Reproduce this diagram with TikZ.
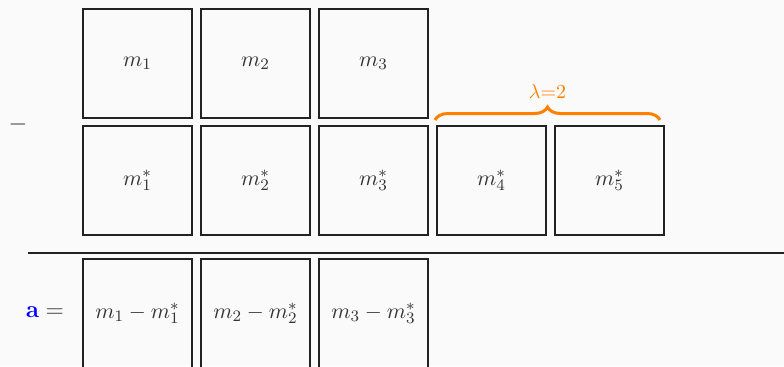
\documentclass[tikz,border=0pt]{standalone}
\usetikzlibrary{decorations.pathreplacing}
\definecolor{bg}{HTML}{FAFAFA}
\definecolor{ink}{HTML}{222222}
\definecolor{txt}{HTML}{333333}
\definecolor{brc}{HTML}{FF7F00}
\begin{document}
\begin{tikzpicture}[x=0.5pt,y=-0.5pt,
  cell/.style={draw=ink,line width=1pt,minimum width=54.5pt,minimum height=54.5pt,inner sep=0pt,text=txt,anchor=north west,font=\fontsize{10.8}{13}\selectfont}]
\fill[bg] (0,0) rectangle (784,366);
\useasboundingbox (0,0) rectangle (784,366);
\clip (0,0) rectangle (784,366);
\node[cell] (a1) at (82,8) {$m_1$};
\node[cell] (a2) at (200,8) {$m_2$};
\node[cell] (a3) at (318,8) {$m_3$};
\node[cell] (b1) at (82,125) {$m_1^*$};
\node[cell] (b2) at (200,125) {$m_2^*$};
\node[cell] (b3) at (318,125) {$m_3^*$};
\node[cell] (b4) at (436,125) {$m_4^*$};
\node[cell] (b5) at (554,125) {$m_5^*$};
\node[cell] (c1) at (82,258) {$m_1-m_1^*$};
\node[cell] (c2) at (200,258) {$m_2-m_2^*$};
\node[cell] (c3) at (318,258) {$m_3-m_3^*$};
\node[text=txt,font=\large] (minus) at (18,124) {$-$};
\node[text=txt,anchor=east,font=\fontsize{12.8}{15}\selectfont] (eq) at (71,312) {$\textcolor{blue}{\mathbf{a}} =$};
\coordinate (l0) at (28,253);
\coordinate (l1) at (784,253);
\draw[ink,line width=0.75pt] (l0) -- (l1);
\coordinate (br0) at (435,120);
\coordinate (br1) at (660,120);
\draw[brc,line width=1.5pt,decorate,decoration={brace,amplitude=6.5pt}] (br0) -- (br1)
  node[midway,above=6.5pt,text=brc] (lam) {$\lambda$=2};
\end{tikzpicture}
\end{document}
